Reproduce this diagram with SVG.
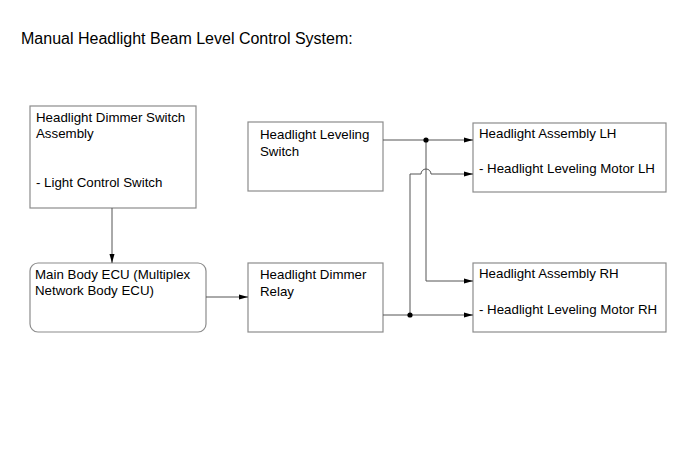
<svg xmlns="http://www.w3.org/2000/svg" width="690" height="465" viewBox="0 0 690 465">
<style>
text{font-family:"Liberation Sans",Arial,sans-serif;font-size:13.3px;fill:#000}
.title{font-size:16px}
.box{fill:#fff;stroke:#8c8c8c;stroke-width:1.2}
.ln{fill:none;stroke:#555;stroke-width:1}
.dot{fill:#000}
</style>
<defs>
<marker id="ah" markerUnits="userSpaceOnUse" markerWidth="9" markerHeight="6" refX="9" refY="3" orient="auto">
<path d="M0,0.5 L9,3 L0,5.5 z" fill="#000"/>
</marker>
</defs>
<rect width="690" height="465" fill="#fff"/>
<text class="title" x="21" y="44">Manual Headlight Beam Level Control System:</text>

<g id="dimmer-switch">
<rect class="box" x="30" y="106" width="166" height="102"/>
<text x="36" y="122">Headlight Dimmer Switch</text>
<text x="36" y="138">Assembly</text>
<text x="36" y="187">- Light Control Switch</text>
</g>
<g id="main-body-ecu">
<rect class="box" x="30" y="263" width="176" height="69" rx="8" ry="8"/>
<text x="35" y="279">Main Body ECU (Multiplex</text>
<text x="35" y="295">Network Body ECU)</text>
</g>
<g id="leveling-switch">
<rect class="box" x="248" y="122" width="135" height="69"/>
<text x="260" y="139">Headlight Leveling</text>
<text x="260" y="156">Switch</text>
</g>
<g id="dimmer-relay">
<rect class="box" x="248" y="263" width="135" height="69"/>
<text x="260" y="279">Headlight Dimmer</text>
<text x="260" y="296">Relay</text>
</g>
<g id="assembly-lh">
<rect class="box" x="473" y="123" width="193" height="69"/>
<text x="479" y="138">Headlight Assembly LH</text>
<text x="479" y="173">- Headlight Leveling Motor LH</text>
</g>
<g id="assembly-rh">
<rect class="box" x="473" y="263" width="193" height="69"/>
<text x="479" y="278">Headlight Assembly RH</text>
<text x="479" y="314">- Headlight Leveling Motor RH</text>
</g>

<g id="connectors">
<path class="ln" d="M112,208 V263" marker-end="url(#ah)"/>
<path class="ln" d="M206,297 H248" marker-end="url(#ah)"/>
<path class="ln" d="M383,140 H473" marker-end="url(#ah)"/>
<path class="ln" d="M426,140 V281 H473" marker-end="url(#ah)"/>
<path class="ln" d="M383,315 H473" marker-end="url(#ah)"/>
<path class="ln" d="M410,315 V174 H421 A5,5 0 0 1 431,174 H473" marker-end="url(#ah)"/>
<circle class="dot" cx="426" cy="140" r="2.6"/>
<circle class="dot" cx="410" cy="315" r="2.6"/>
</g>
</svg>
